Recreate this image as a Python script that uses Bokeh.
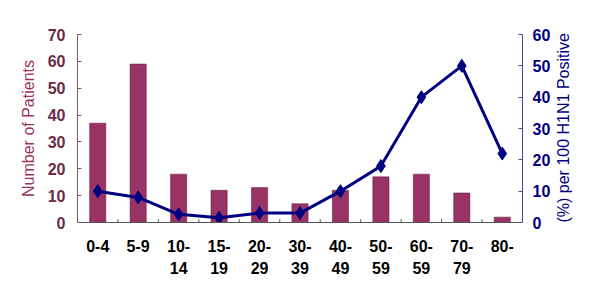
import math
from bokeh.plotting import figure
from bokeh.models import Range1d, LinearAxis, FixedTicker
from bokeh.embed import file_html
from bokeh.resources import INLINE

categories = ["0-4", "5-9", "10-\n14", "15-\n19", "20-\n29", "30-\n39", "40-\n49", "50-\n59", "60-\n59", "70-\n79", "80-"]
patients = [37, 59, 18, 12, 13, 7, 12, 17, 18, 11, 2]
pct_positive = [10, 8, 2.6, 1.5, 3, 3, 10, 18, 40, 50, 22]

MAROON = "#993366"
NAVY = "#000080"
FONT = "Liberation Sans"

p = figure(x_range=categories, y_range=Range1d(0, 70), width=600, height=286,
           output_backend="svg", toolbar_location=None,
           min_border_left=77, min_border_right=78, min_border_top=34, min_border_bottom=64)
p.extra_y_ranges = {"pct": Range1d(0, 60)}

# small inward ticks between categories on the x baseline
boundaries = [(c, 0.5) for c in categories[:-1]]
p.segment(x0=boundaries, x1=boundaries, y0=0, y1=1.2, line_color="#555555", line_width=1)

p.vbar(x=categories, top=patients, width=0.4, fill_color=MAROON, line_color="#5a1a3a", line_width=0.5)
p.line(x=categories, y=pct_positive, y_range_name="pct", line_color=NAVY, line_width=3)
p.scatter(x=categories, y=pct_positive, y_range_name="pct", marker="diamond", size=13,
          fill_color=NAVY, line_color=NAVY)

p.grid.visible = False
p.outline_line_color = None
p.background_fill_color = "white"
p.border_fill_color = "white"

xa = p.xaxis[0]
xa.major_label_text_font = FONT
xa.major_label_text_font_style = "bold"
xa.major_label_text_font_size = "16px"
xa.major_label_text_color = "black"
xa.major_label_standoff = 9
xa.major_label_text_line_height = 1.35
xa.major_tick_line_color = None
xa.minor_tick_line_color = None
xa.axis_line_color = "#555555"

# left axis
ya = p.yaxis[0]
ya.ticker = FixedTicker(ticks=[0, 10, 20, 30, 40, 50, 60, 70])
ya.axis_label = "Number of Patients"
ya.axis_label_text_font = FONT
ya.axis_label_text_font_style = "normal"
ya.axis_label_text_font_size = "16px"
ya.axis_label_text_color = MAROON
ya.axis_label_standoff = 8
ya.major_label_text_font = FONT
ya.major_label_text_font_style = "bold"
ya.major_label_text_font_size = "16px"
ya.major_label_text_color = "#6b2a4a"
ya.major_label_standoff = 12
ya.axis_line_color = "#7a5a6a"
ya.major_tick_line_color = "#7a5a6a"
ya.major_tick_in = 4
ya.major_tick_out = 0
ya.minor_tick_line_color = None

# right axis
ra = LinearAxis(y_range_name="pct", ticker=FixedTicker(ticks=[0, 10, 20, 30, 40, 50, 60]))
ra.axis_label = "(%) per 100 H1N1 Positive"
ra.axis_label_orientation = math.pi / 2
ra.axis_label_align = "start"
ra.axis_label_text_font = FONT
ra.axis_label_text_font_style = "normal"
ra.axis_label_text_font_size = "16px"
ra.axis_label_text_color = NAVY
ra.axis_label_standoff = 10
ra.major_label_text_font = FONT
ra.major_label_text_font_style = "bold"
ra.major_label_text_font_size = "16px"
ra.major_label_text_color = NAVY
ra.major_label_standoff = 10
ra.axis_line_color = "#4a4a8a"
ra.major_tick_line_color = "#4a4a8a"
ra.major_tick_in = 4
ra.major_tick_out = 0
ra.minor_tick_line_color = None
p.add_layout(ra, "right")

open("out.html", "w").write(file_html(p, INLINE))
